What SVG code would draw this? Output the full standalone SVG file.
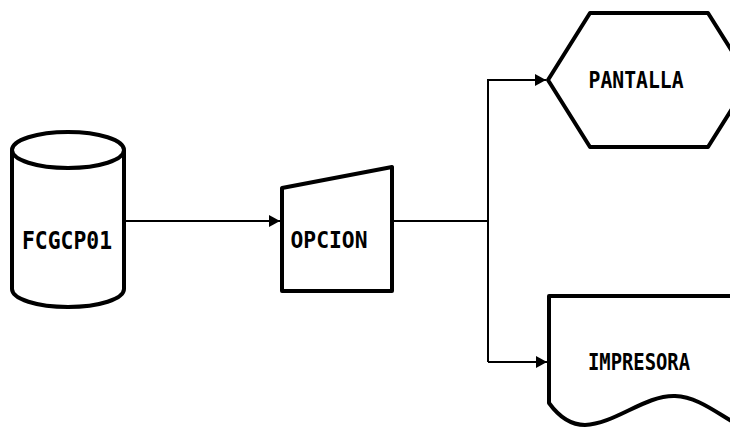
<svg xmlns="http://www.w3.org/2000/svg" width="730" height="432" viewBox="0 0 730 432">
<style>
.shape{fill:#fff;stroke:#000;stroke-width:4;stroke-linejoin:round}
.conn{fill:none;stroke:#000;stroke-width:2}
.lbl{font-family:"DejaVu Sans Mono","Liberation Mono",monospace;font-weight:bold;font-size:19px;fill:#000}
</style>
<defs>
<marker id="arr" markerUnits="userSpaceOnUse" markerWidth="11" markerHeight="12" refX="11" refY="6" orient="auto">
<path d="M0,0 L11,6 L0,12 Z" fill="#000"/>
</marker>
</defs>
<rect width="730" height="432" fill="#fff"/>
<g id="connectors">
<path class="conn" d="M124,221 H280" marker-end="url(#arr)"/>
<path class="conn" d="M392,221 H488"/>
<path class="conn" d="M488,79 V362"/>
<path class="conn" d="M488,80 H546" marker-end="url(#arr)"/>
<path class="conn" d="M488,362 H547" marker-end="url(#arr)"/>
</g>
<g id="fcgcp01">
<path class="shape" d="M12,150 A56,18 0 0 1 124,150 L124,289 A56,18 0 0 1 12,289 Z"/>
<path class="shape" fill="none" d="M12,150 A56,18 0 0 0 124,150"/>
<text class="lbl" transform="translate(67,249) scale(1,1.3)" text-anchor="middle" textLength="90" lengthAdjust="spacingAndGlyphs">FCGCP01</text>
</g>
<g id="opcion">
<path class="shape" d="M282,188 L392,167 L392,291 L282,291 Z"/>
<text class="lbl" transform="translate(329,248) scale(1,1.22)" text-anchor="middle" textLength="77" lengthAdjust="spacingAndGlyphs">OPCION</text>
</g>
<g id="pantalla">
<path class="shape" d="M548,80 L590,13 L708,13 L750,80 L708,147 L590,147 Z"/>
<text class="lbl" transform="translate(636,88) scale(1,1.22)" text-anchor="middle" textLength="95" lengthAdjust="spacingAndGlyphs">PANTALLA</text>
</g>
<g id="impresora">
<path class="shape" d="M549,296 L760,296 L760,440 L740,426 C715,412 698,397 675,396 C645,395 615,424 585,425 C568,425 557,414 549,403 Z"/>
<text class="lbl" transform="translate(639,370) scale(1,1.22)" text-anchor="middle" textLength="102" lengthAdjust="spacingAndGlyphs">IMPRESORA</text>
</g>
</svg>
